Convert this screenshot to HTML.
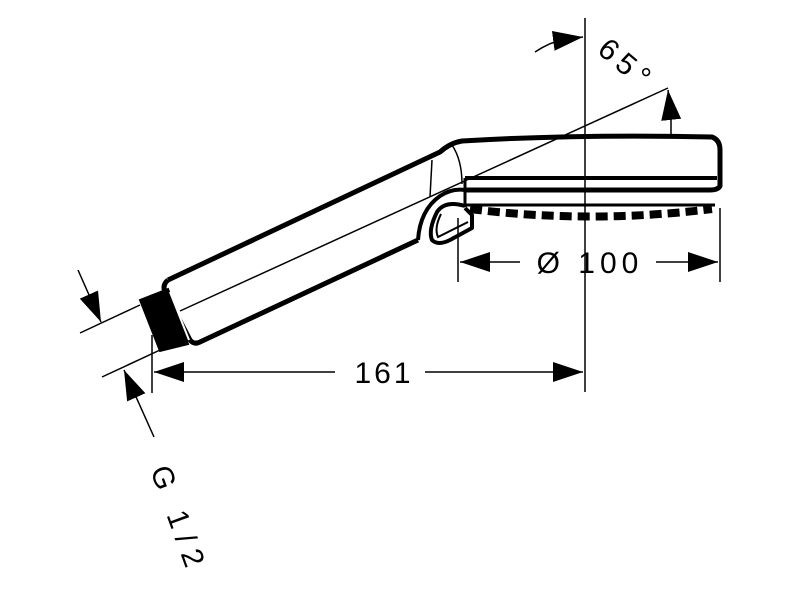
<!DOCTYPE html>
<html><head><meta charset="utf-8"><style>html,body{margin:0;padding:0;background:#fff}svg{display:block}</style></head>
<body>
<svg width="800" height="600" viewBox="0 0 800 600" xmlns="http://www.w3.org/2000/svg">
<defs>
<marker id="a" viewBox="0 0 10 10" refX="10" refY="5" markerWidth="30" markerHeight="20" markerUnits="userSpaceOnUse" orient="auto" preserveAspectRatio="none"><path d="M0,0L10,5L0,10z" fill="#000"/></marker>
</defs>
<g fill="none" stroke="#000">
<line x1="180" y1="311" x2="668" y2="88" stroke-width="1.5"/>
<line x1="585" y1="18" x2="585" y2="392" stroke-width="1.5"/>
<line x1="152" y1="335" x2="152" y2="393" stroke-width="1.5"/>
<line x1="458" y1="218" x2="458" y2="282" stroke-width="1.5"/>
<line x1="720" y1="208" x2="720" y2="282" stroke-width="1.5"/>
<line x1="80" y1="333" x2="140" y2="305" stroke-width="1.5"/>
<line x1="102" y1="377" x2="160" y2="350" stroke-width="1.5"/>
<line x1="335" y1="372" x2="154" y2="372" stroke-width="1.5" marker-end="url(#a)"/>
<line x1="425" y1="372" x2="583" y2="372" stroke-width="1.5" marker-end="url(#a)"/>
<line x1="520" y1="262" x2="460" y2="262" stroke-width="1.5" marker-end="url(#a)"/>
<line x1="656" y1="262" x2="718" y2="262" stroke-width="1.5" marker-end="url(#a)"/>
<line x1="78" y1="270" x2="101" y2="322" stroke-width="1.5" marker-end="url(#a)"/>
<line x1="154" y1="437" x2="124" y2="370" stroke-width="1.5" marker-end="url(#a)"/>
<path d="M535,52 Q550,42 565,39" stroke-width="1.5"/>
<path d="M560,40 L583,37" stroke-width="1.5" marker-end="url(#a)"/>
<path d="M671,135 L671,115" stroke-width="1.5"/>
<path d="M671,118 L668,90" stroke-width="1.5" marker-end="url(#a)"/>
<path d="M168,280 L440,152 Q450,143 462,141 Q580,134 712,137 Q720,140 720,150 L720,186 Q718,190 710,190 L465,190" stroke-width="5" stroke-linejoin="round"/>
<path d="M168,280 Q162,285 165,292 L190,340 Q194,345 200,342 L418,240" stroke-width="5" stroke-linejoin="round"/>
<path d="M465,178 L717,178" stroke-width="4"/>
<path d="M465,178 L465,207" stroke-width="3"/>
<path d="M465,205 L715,205" stroke-width="3"/>
<path d="M470,209 Q590,224 712,209" stroke-width="8" stroke-dasharray="12,6"/>
<path d="M432,160 L430,197" stroke-width="1.5"/>
<path d="M452,145 Q462,160 462,184" stroke-width="1.5"/>
<path d="M418,240 Q420,210 440,196 Q452,188 465,190" stroke-width="4"/>
<path d="M465,206 Q445,200 437,212 Q428,230 432,240 Q438,246 450,240 L472,228 L472,215 L465,208" stroke-width="4" stroke-linejoin="round"/>
<path d="M441,214 Q434,228 438,237 L468,222" stroke-width="2"/>
<path d="M140,300 L168,289 L188,344 L160,351 Z" fill="#000" stroke-width="2"/>
<line x1="170" y1="292" x2="189" y2="340" stroke="#fff" stroke-width="2"/>
</g>
<g font-family="Liberation Sans, sans-serif" font-size="30" fill="#000">
<text x="384" y="383" text-anchor="middle" letter-spacing="3">161</text>
<text x="590" y="273" text-anchor="middle" letter-spacing="5">Ø 100</text>
<text transform="translate(596,52) rotate(40)" letter-spacing="6">65°</text>
<text transform="translate(150,470) rotate(70)" letter-spacing="8">G 1/2</text>
</g>
</svg>
</body></html>
